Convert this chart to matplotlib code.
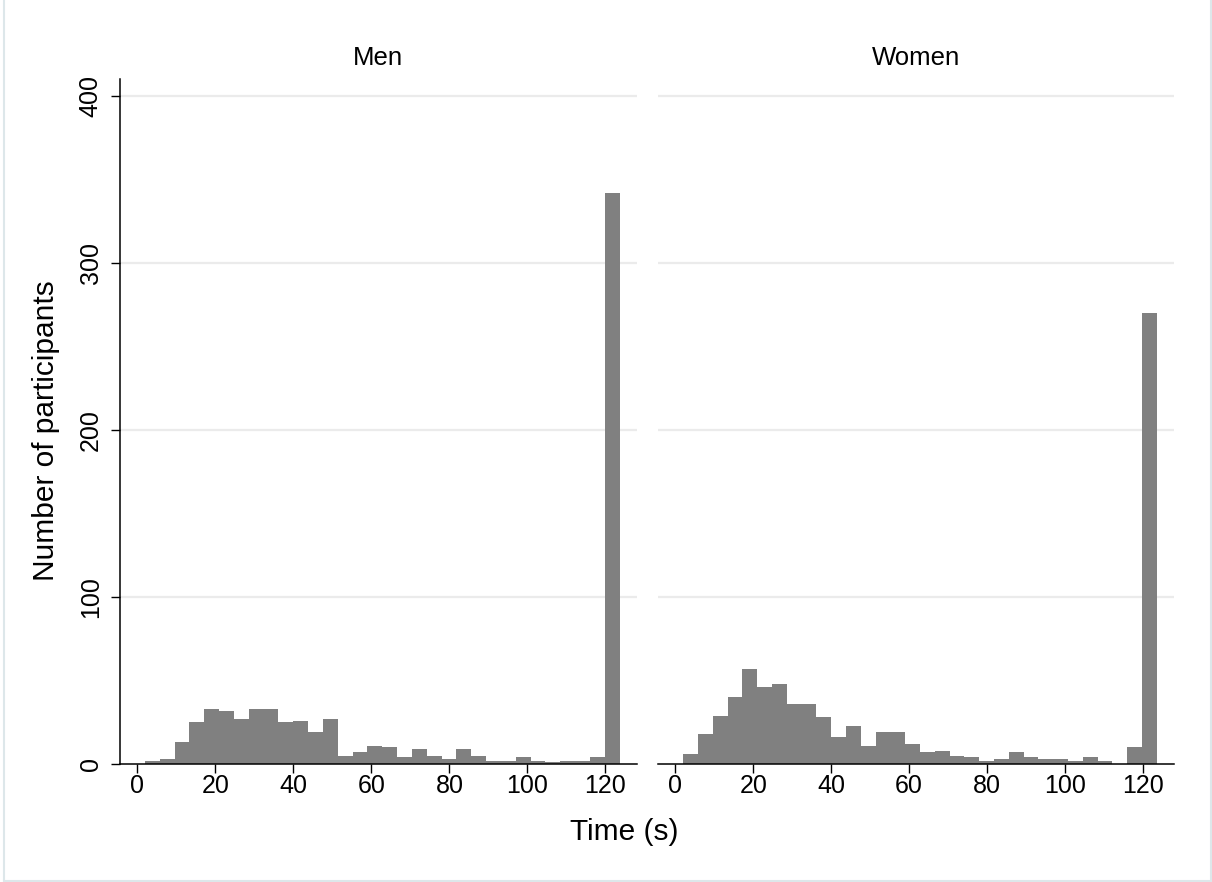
import matplotlib
matplotlib.use("Agg")
import matplotlib.pyplot as plt
from matplotlib.lines import Line2D
import numpy as np

plt.rcParams['font.family'] = ['Liberation Sans', 'DejaVu Sans']

# ---- data ----
panels = ["Men", "Women"]
bin_start = 2.0
bin_width = 3.8
men_counts = [2, 3, 13, 25, 33, 32, 27, 33, 33, 25, 26, 19, 27, 5, 7, 11,
              10, 4, 9, 5, 3, 9, 5, 2, 2, 4, 2, 1, 2, 2, 4, 342]
women_counts = [6, 18, 29, 40, 57, 46, 48, 36, 36, 28, 16, 23, 11, 19, 19, 12,
                7, 8, 5, 4, 2, 3, 7, 4, 3, 3, 2, 4, 2, 0, 10, 270]
xticks = [0, 20, 40, 60, 80, 100, 120]
yticks = [0, 100, 200, 300, 400]
xlabel = "Time (s)"
ylabel = "Number of participants"

W, H = 1212, 882
fig = plt.figure(figsize=(W / 100, H / 100), dpi=100)

# light outer frame (left, bottom, right)
fc = '#dde7ea'
fig.lines.append(Line2D([3.5 / W, 3.5 / W], [0, 1], transform=fig.transFigure,
                        color=fc, linewidth=1.5))
fig.lines.append(Line2D([3.5 / W, (W - 1.5) / W], [1.0 / H, 1.0 / H],
                        transform=fig.transFigure, color=fc, linewidth=1.5))
fig.lines.append(Line2D([(W - 1.5) / W, (W - 1.5) / W], [0, 1],
                        transform=fig.transFigure, color=fc, linewidth=1.5))

bottom = 1 - 764 / H
top = 1 - 79 / H
ax_specs = [(120, 636.7), (658.3, 1174)]
bar_color = '#808080'

for i, (name, counts) in enumerate(zip(panels, [men_counts, women_counts])):
    x0, x1 = ax_specs[i]
    ax = fig.add_axes([x0 / W, bottom, (x1 - x0) / W, top - bottom])
    n = len(counts)
    edges = bin_start + bin_width * np.arange(n)
    ax.bar(edges, counts, width=bin_width, align='edge', color=bar_color,
           edgecolor='none', zorder=2)
    ax.set_xlim(-4.4, 128)
    ax.set_ylim(0, 410)
    ax.set_yticks(yticks)
    ax.set_xticks(xticks)
    ax.set_xticklabels([str(t) for t in xticks])
    for y in yticks[1:]:
        ax.axhline(y, color='#ebebeb', linewidth=1.6, zorder=1)
    for s in ['top', 'right']:
        ax.spines[s].set_visible(False)
    ax.spines['bottom'].set_linewidth(1.1)
    ax.spines['left'].set_linewidth(1.1)
    ax.tick_params(axis='x', direction='out', length=6.5, width=1.0,
                   labelsize=18, pad=1)
    if i == 0:
        ax.tick_params(axis='y', direction='out', length=6.5, width=1.0,
                       labelsize=18, pad=6)
        ax.set_yticklabels([str(t) for t in yticks], rotation=90, va='center')
    else:
        ax.spines['left'].set_visible(False)
        ax.tick_params(axis='y', left=False, labelleft=False)
    ax.set_facecolor('white')
    fig.text(((x0 + x1) / 2) / W, 1 - 58 / H, name, ha='center', va='center',
             fontsize=18.5)

fig.text(624 / W, 1 - 832 / H, xlabel, ha='center', va='center', fontsize=21.5)
fig.text(46 / W, 1 - 431 / H, ylabel, ha='center', va='center', fontsize=21.5,
         rotation=90)

fig.savefig('out.png', dpi=100, facecolor='white')
